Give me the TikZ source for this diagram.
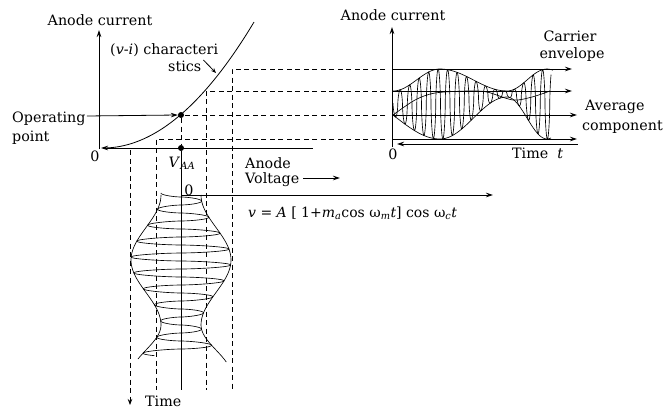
\documentclass[tikz,border=0pt]{standalone}
\usepackage{fontspec}
\setmainfont{DejaVu Serif}
\usetikzlibrary{arrows.meta}
\begin{document}
\begin{tikzpicture}[x=1pt,y=-1pt,
  ax/.style={line width=0.8pt},
  arr/.style={line width=0.8pt,-{Stealth[length=7pt,width=4.5pt]}},
  larr/.style={line width=0.8pt,{Stealth[length=7pt,width=4.5pt]}-},
  dsh/.style={line width=0.8pt,dash pattern=on 5pt off 3.5pt},
  wave/.style={line width=0.65pt},
  lbl/.style={font=\fontsize{14.3}{16}\selectfont, inner sep=0pt},
  eqn/.style={font=\fontsize{14}{16}\selectfont, inner sep=0pt},
  dot/.style={circle,fill,inner sep=0pt,minimum size=6pt},
  declare function={
    Av(\y)=ifthenelse(\y<325,35+15*cos((\y-260)/65*180),35+15*cos(180+(\y-325)/50*180));
    phU(\x)=ifthenelse(\x<440,(\x-440)/47*180,ifthenelse(\x<507,(\x-440)/67*180,180+(\x-507)/40*180));
    phL(\x)=ifthenelse(\x<440,(\x-440)/47*98,ifthenelse(\x<507,(\x-440)/67*180,180+(\x-507)/40*180));
    Ue(\x)=80-11*cos(phU(\x));
    Le(\x)=118+21*cos(phL(\x));
    Yl(\t)=197+\t/360*16;
    Xr(\t)=393+\t/360*9.5;
    sq(\t)=sin(\t)/(pow(abs(sin(\t))+0.0001,0.4));
  }]
\useasboundingbox (0,0) rectangle (663,412);

% ---------- left characteristic ----------
\coordinate (LO) at (101,148);
\coordinate (LyEnd) at (99,30);
\coordinate (LyStart) at (99,149);
\coordinate (LxEnd) at (313,148);
\draw[arr] (LyStart) -- (LyEnd);
\draw[larr] (LO) -- (LxEnd);
\draw[ax] plot[domain=103:254,samples=60] (\x,{148-0.00553*(\x-103)*(\x-103)});

\node[dot] (op) at (181,115) {};
\node[dot] (vaa) at (181,148) {};

% dashed projections
\coordinate (R1) at (385,69);
\coordinate (R2) at (385,91);
\coordinate (R3) at (385,115);
\coordinate (R4) at (385,139);
\coordinate (C1) at (232,69);
\coordinate (C2) at (206,91);
\coordinate (C4) at (156,139);
\coordinate (B1) at (232,390);
\coordinate (B2) at (206,390);
\coordinate (B4) at (156,390);
\coordinate (T0) at (130,150);
\coordinate (T1) at (130,405);
\draw[dsh] (R1) -- (C1) -- (B1);
\draw[dsh] (R2) -- (C2) -- (B2);
\draw[dsh] (R3) -- (op.east) (op.south) -- (vaa.north);
\draw[dsh] (R4) -- (C4) -- (B4);
\draw[dsh,-{Stealth[length=6pt,width=4.5pt]}] (T0) -- (T1);

% time axis and input voltage axis
\coordinate (TA) at (181,390);
\coordinate (V0) at (181,195);
\coordinate (V1) at (493,195);
\draw[ax] (vaa.south) -- (TA);
\draw[arr] (V0) -- (V1);

% input AM wave (time downward)
\draw[wave] plot[domain=-90:3570,samples=1400] ({181+Av(Yl(\x))*sq(\x)},{Yl(\x)});
\draw[wave] plot[domain=195:359,samples=60] ({181-Av(\x)},\x);
\draw[wave] plot[domain=195:362,samples=60] ({181+Av(\x)},\x);

% ---------- right output graph ----------
\coordinate (RyS) at (392,147);
\coordinate (RyE) at (392,27);
\coordinate (RxS) at (397,144);
\coordinate (RxE) at (578,144);
\draw[arr] (RyS) -- (RyE);
\draw[larr] (RxS) -- (RxE);
\coordinate (L1a) at (392,69);  \coordinate (L1b) at (572,69);
\coordinate (L2a) at (392,91);  \coordinate (L2b) at (572,91);
\coordinate (L3a) at (392,115); \coordinate (L3b) at (577,115);
\coordinate (L4a) at (392,139); \coordinate (L4b) at (577,139);
\draw[arr] (L1a) -- (L1b);
\draw[arr] (L2a) -- (L2b);
\draw[arr] (L3a) -- (L3b);
\draw[arr] (L4a) -- (L4b);

\draw[wave] plot[domain=0:5990,samples=1500] ({Xr(\x)},{(Ue(Xr(\x))+Le(Xr(\x)))/2+(Le(Xr(\x))-Ue(Xr(\x)))/2*sq(\x)});
\draw[wave] plot[domain=393:553,samples=80] (\x,{Ue(\x)});
\draw[wave] plot[domain=393:551,samples=80] (\x,{Le(\x)});
\draw[wave] plot[smooth] coordinates {(393,115) (415,100) (435,93) (468,91) (487,92) (513,100) (532,97) (550,91)};

% ---------- labels ----------
\node[lbl] (ylabL) at (100,20) {Anode current};
\node[lbl] (ylabR) at (393,15) {Anode current};
\node[lbl,anchor=west] (vi) at (110,50) {(\textit{v}-\textit{i}) characteri};
\node[lbl,anchor=west] (stics) at (168,66) {stics};
\coordinate (sticsTip) at (216,73);
\draw[line width=0.8pt,-{Stealth[length=5pt,width=4pt]}] (stics.east) ++(2,-6) -- (sticsTip);
\node[lbl,anchor=west] (opl) at (12,119) {Operating};
\node[lbl,anchor=west] (pt) at (12,138) {point};
\draw[arr] (opl.east) ++(1,-3) -- (op.west);
\node[lbl] (zL) at (95,156) {0};
\node[lbl] (vaal) at (182,163) {\textit{V}\textsubscript{\textit{AA}}};
\node[lbl,anchor=west] (an) at (245,163) {Anode};
\node[lbl,anchor=west] (vo) at (245,180) {Voltage};
\coordinate (voE) at (340,178);
\draw[arr] (vo.east) ++(4,-2) -- (voE);
\node[lbl] (zB) at (189,190) {0};
\node[eqn,anchor=west] (eq) at (248,213) {\textit{v} = \textit{A} [ 1+\textit{m}\textsubscript{\textit{a}}cos ω\textsubscript{\textit{m}}\textit{t}] cos ω\textsubscript{\textit{c}}\textit{t}};
\node[lbl,anchor=west] (tm) at (145,401) {Time};
\node[lbl] (car) at (570,36) {Carrier};
\node[lbl] (env) at (572,55) {envelope};
\node[lbl,anchor=west] (avg) at (585,107) {Average};
\node[lbl,anchor=east] (comp) at (663,127) {component};
\node[lbl,anchor=west] (tt) at (512,153) {Time \ \textit{t}};
\node[lbl] (zR) at (393,154) {0};
\end{tikzpicture}
\end{document}
